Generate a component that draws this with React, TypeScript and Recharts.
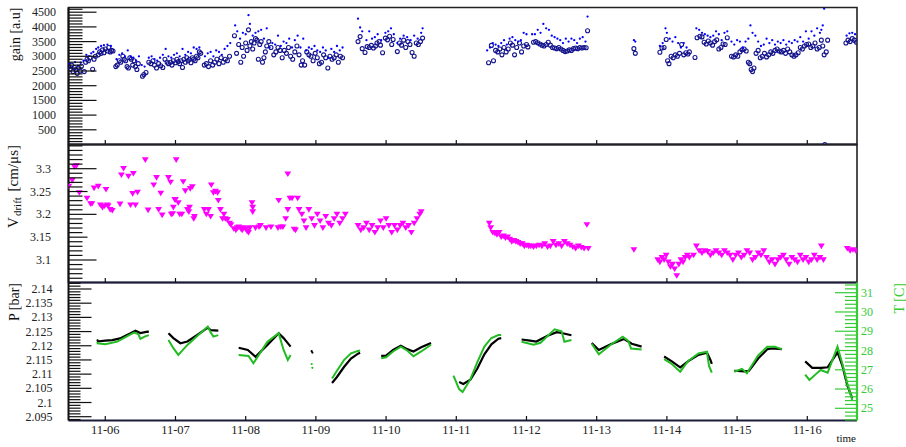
import React from 'react';
import { ScatterChart, Scatter, XAxis, YAxis, ReferenceArea } from 'recharts';

// ---------------- axes / labels ----------------
const DAY_TICKS = [0, 1, 2, 3, 4, 5, 6, 7, 8, 9, 10];
const DAY_LABELS = ['11-06', '11-07', '11-08', '11-09', '11-10', '11-11', '11-12', '11-13', '11-14', '11-15', '11-16'];
const X_DOMAIN: [number, number] = [-0.524, 10.708];

const GAIN_MAJOR = [500, 1000, 1500, 2000, 2500, 3000, 3500, 4000, 4500];
const GAIN_LABELS = ['500', '1000', '1500', '2000', '2500', '3000', '3500', '4000', '4500'];
const GAIN_DOMAIN: [number, number] = [0, 4660];

const V_MAJOR = [3.1, 3.15, 3.2, 3.25, 3.3];
const V_LABELS = ['3.1', '3.15', '3.2', '3.25', '3.3'];
const V_DOMAIN: [number, number] = [3.0507, 3.353];

const P_MAJOR = [2.095, 2.1, 2.105, 2.11, 2.115, 2.12, 2.125, 2.13, 2.135, 2.14];
const P_LABELS = ['2.095', '2.1', '2.105', '2.11', '2.115', '2.12', '2.125', '2.13', '2.135', '2.14'];
const P_DOMAIN: [number, number] = [2.09366, 2.14229];

const T_MAJOR = [25, 26, 27, 28, 29, 30, 31];
const T_LABELS = ['25', '26', '27', '28', '29', '30', '31'];
const T_DOMAIN: [number, number] = [24.367, 31.53];

// ---------------- data (time in days from 11-06 00:00) ----------------
const GAIN_CIRCLES: [number, number][] = [
  [-0.52, 2650], [-0.5, 2560], [-0.48, 2700], [-0.46, 2480], [-0.44, 2620], [-0.42, 2540], [-0.4, 2420], [-0.38, 2600], [-0.36, 2500], [-0.34, 2660],
  [-0.3, 2480], [-0.28, 2800], [-0.26, 2900], [-0.24, 2850], [-0.22, 2950], [-0.18, 2560], [-0.16, 2900], [-0.14, 3000],
  [-0.1, 3050], [-0.08, 3150], [-0.06, 3100], [-0.04, 3220], [-0.02, 3120], [0.0, 3250], [0.03, 3180], [0.05, 3300], [0.07, 3150], [0.09, 3200], [0.11, 3180],
  [0.15, 2650], [0.17, 2700], [0.2, 2850], [0.22, 2800], [0.25, 3000], [0.27, 2900], [0.29, 2850], [0.31, 2650], [0.33, 2600], [0.35, 2950], [0.37, 2900], [0.39, 2700], [0.41, 2850], [0.43, 2650], [0.45, 2550], [0.47, 2750],
  [0.53, 2320], [0.55, 2380], [0.58, 2450],
  [0.62, 2800], [0.65, 2750], [0.68, 2850], [0.7, 2700], [0.73, 2600], [0.76, 2750], [0.79, 2680], [0.82, 2620], [0.85, 2900], [0.88, 2800],
  [0.9, 2750], [0.93, 2800], [0.95, 2700], [0.97, 2850], [1.0, 2780], [1.02, 2900], [1.04, 2820], [1.06, 2750], [1.08, 2850], [1.1, 2620], [1.12, 2900], [1.14, 2800], [1.16, 2950], [1.18, 2850], [1.2, 2900], [1.22, 2780], [1.24, 2950], [1.26, 2900], [1.28, 2850], [1.3, 3000], [1.32, 2950], [1.34, 3150], [1.36, 3100],
  [1.41, 2700], [1.44, 2750], [1.47, 2650], [1.5, 2850], [1.53, 2700], [1.56, 2800], [1.59, 2900], [1.62, 2750], [1.65, 2950], [1.68, 2800], [1.71, 2900], [1.74, 2850], [1.77, 3000],
  [1.84, 3700], [1.87, 3100], [1.9, 3400], [1.93, 2800],
  [1.95, 3300], [1.97, 3000], [2.0, 3450], [2.02, 3200], [2.04, 3900], [2.06, 3350], [2.08, 3500], [2.1, 3250], [2.12, 3450], [2.14, 3600], [2.16, 3550], [2.18, 2900], [2.2, 3400], [2.22, 3500], [2.24, 2800], [2.26, 2950], [2.28, 3150], [2.3, 3350],
  [2.33, 3500], [2.36, 3300], [2.4, 3050], [2.43, 3150], [2.46, 3300], [2.49, 3200], [2.52, 2950], [2.55, 3200], [2.58, 3100], [2.61, 3300], [2.64, 3000], [2.67, 2900], [2.7, 3150], [2.73, 3350], [2.76, 3050], [2.79, 2700],
  [2.81, 2850], [2.84, 2700], [2.87, 3150], [2.9, 3050], [2.93, 3000], [2.96, 2850], [2.99, 3100], [3.02, 2950], [3.05, 2750], [3.08, 2800], [3.11, 3050], [3.14, 2950], [3.17, 2600], [3.2, 3000], [3.23, 2900], [3.26, 2950], [3.29, 3050], [3.32, 2800], [3.35, 3000], [3.38, 2950],
  [3.6, 3500], [3.63, 3670], [3.66, 3260], [3.7, 3130], [3.73, 3330], [3.76, 3300], [3.79, 3370], [3.82, 3280], [3.85, 3350], [3.87, 3450], [3.9, 3500], [3.92, 3380], [3.95, 3120],
  [3.99, 3620], [4.02, 3560], [4.05, 3680], [4.08, 3400], [4.1, 3570],
  [4.16, 3160], [4.19, 3450], [4.22, 3380], [4.25, 3550], [4.28, 3300], [4.31, 3500], [4.34, 3400], [4.37, 3130], [4.4, 3000], [4.43, 3450], [4.46, 3400], [4.49, 3500], [4.52, 3620],
  [5.46, 2780], [5.5, 3370], [5.53, 2850], [5.56, 3200], [5.59, 3150], [5.62, 3250], [5.65, 3050], [5.68, 3300], [5.71, 3150], [5.74, 3250], [5.77, 3450], [5.8, 3380], [5.83, 3050], [5.86, 3300], [5.9, 3450], [5.93, 3150], [5.96, 3350], [6.0, 3400], [6.02, 3320],
  [6.1, 3480], [6.13, 3500], [6.16, 3460], [6.19, 3420], [6.22, 3380], [6.25, 3350], [6.28, 3400], [6.31, 3480], [6.34, 3380], [6.37, 3300], [6.4, 3280], [6.43, 3260], [6.46, 3300], [6.49, 3250], [6.52, 3200], [6.55, 3160], [6.58, 3180], [6.61, 3220], [6.64, 3200], [6.67, 3260], [6.7, 3280], [6.73, 3260], [6.76, 3300], [6.79, 3280], [6.82, 3300], [6.85, 3290], [6.87, 3870],
  [7.53, 3260], [7.55, 3100],
  [7.9, 3140], [7.93, 3280], [7.96, 3300], [7.99, 3570], [8.01, 2850], [8.03, 2750], [8.06, 3000], [8.09, 2950], [8.12, 3050], [8.15, 3000], [8.18, 3100], [8.21, 3400], [8.24, 3050], [8.27, 3120], [8.3, 3080], [8.32, 3150],
  [8.4, 2960], [8.43, 3630], [8.47, 3680], [8.5, 3660], [8.53, 3480], [8.56, 3420], [8.59, 3520], [8.62, 3450], [8.65, 3380], [8.68, 3500], [8.71, 3560], [8.74, 3250], [8.77, 3300], [8.8, 3420], [8.83, 3400], [8.86, 3630],
  [8.92, 3000], [8.95, 2980], [8.98, 3050], [9.01, 3000], [9.04, 3150], [9.07, 3220], [9.1, 3250], [9.13, 3180], [9.16, 2800], [9.18, 2750], [9.2, 2550], [9.22, 2480], [9.24, 2600], [9.27, 3100], [9.3, 3200],
  [9.33, 2950], [9.36, 3000], [9.39, 3100], [9.42, 2980], [9.45, 3050], [9.48, 3150], [9.51, 3100], [9.54, 3200], [9.57, 3250], [9.6, 3180], [9.63, 3150], [9.66, 3200], [9.69, 3100], [9.72, 3250], [9.75, 3150], [9.78, 3050], [9.81, 3000], [9.84, 3050], [9.87, 3120], [9.9, 3300], [9.93, 3250], [9.96, 3350], [9.99, 3400], [10.02, 3420], [10.05, 3300], [10.08, 3350], [10.11, 3450], [10.14, 3250], [10.17, 3300], [10.2, 3550],
  [10.22, 3350], [10.24, 3050], [10.25, 0], [10.27, 3150], [10.29, 3550],
  [10.55, 3450], [10.58, 3550], [10.61, 3500], [10.64, 3600], [10.67, 3550], [10.7, 3480],
];

const GAIN_DOTS: [number, number][] = [
  [-0.51, 2750], [-0.47, 2620], [-0.43, 2800], [-0.39, 2680], [-0.35, 2780], [-0.31, 2850],
  [-0.27, 3050], [-0.24, 3000], [-0.2, 3100], [-0.17, 3150], [-0.13, 3250], [-0.1, 3300], [-0.06, 3350], [-0.02, 3380], [0.03, 3400], [0.08, 3350],
  [0.16, 2900], [0.2, 3050], [0.24, 3100], [0.28, 3000], [0.32, 3200], [0.36, 3000], [0.4, 2950], [0.44, 2850], [0.48, 3000], [0.52, 2700], [0.56, 2650],
  [0.62, 2950], [0.66, 3000], [0.7, 2900], [0.74, 2850], [0.78, 2950], [0.82, 3050], [0.86, 3250], [0.9, 3000], [0.94, 2950], [0.98, 3050], [1.02, 3100], [1.06, 3000], [1.1, 3250], [1.14, 3050], [1.18, 3150], [1.22, 3100], [1.26, 3300], [1.3, 3250], [1.34, 3300],
  [1.42, 3000], [1.46, 3100], [1.5, 3150], [1.54, 3000], [1.58, 3200], [1.62, 3150], [1.66, 3050], [1.7, 3250], [1.74, 3350], [1.78, 3450],
  [1.85, 4050], [1.88, 3850], [1.92, 3600], [1.96, 3800], [2.0, 3750], [2.04, 4400], [2.06, 4100], [2.1, 3700], [2.14, 3800], [2.18, 3850], [2.22, 3900], [2.26, 3600], [2.3, 3950],
  [2.34, 3300], [2.38, 3450], [2.42, 3400], [2.46, 3700], [2.5, 3350], [2.54, 3500], [2.58, 3450], [2.62, 3600], [2.66, 3300], [2.7, 3550], [2.74, 3700], [2.78, 3300],
  [2.82, 3600], [2.86, 3200], [2.9, 3300], [2.94, 3250], [2.98, 3350], [3.02, 3200], [3.06, 3150], [3.1, 3300], [3.14, 3200], [3.18, 2950], [3.22, 3250], [3.26, 3150], [3.3, 3350], [3.34, 3200], [3.38, 3300],
  [3.6, 4280], [3.63, 3980], [3.66, 3850], [3.72, 3550], [3.76, 3850], [3.8, 3600], [3.84, 3650], [3.88, 3750], [3.93, 3550],
  [3.99, 3800], [4.03, 3850], [4.07, 3950], [4.11, 3750], [4.16, 3450], [4.2, 3600], [4.25, 3700], [4.3, 3650], [4.35, 3550], [4.4, 3700], [4.45, 3600], [4.5, 3800], [4.52, 3950],
  [5.44, 3200], [5.48, 3300], [5.52, 3450], [5.56, 3400], [5.6, 3350], [5.64, 3450], [5.68, 3550], [5.72, 3400], [5.76, 3600], [5.8, 3650], [5.84, 3550], [5.88, 3500], [5.92, 3550], [5.96, 3800], [6.0, 3750],
  [6.08, 3750], [6.12, 3750], [6.16, 3900], [6.2, 3800], [6.24, 4100], [6.28, 3950], [6.32, 3900], [6.36, 3700], [6.4, 3650], [6.44, 3600], [6.48, 3550], [6.52, 3450], [6.56, 3600], [6.6, 3500], [6.64, 3600], [6.68, 3550], [6.72, 3450], [6.76, 3600], [6.8, 3650], [6.84, 3500], [6.87, 4350],
  [7.53, 3550], [7.55, 3500],
  [7.9, 3350], [7.94, 3450], [7.98, 3950], [8.0, 3800], [8.04, 3600], [8.08, 3500], [8.12, 3650], [8.16, 3450], [8.2, 3300], [8.24, 3450], [8.28, 3300],
  [8.42, 3950], [8.46, 3900], [8.5, 3800], [8.54, 3750], [8.58, 3700], [8.62, 3650], [8.66, 3700], [8.7, 3850], [8.74, 3750], [8.78, 3550], [8.82, 3800], [8.86, 3850],
  [8.92, 3500], [8.96, 3400], [9.0, 3550], [9.04, 3500], [9.08, 3300], [9.12, 3500], [9.16, 3600], [9.19, 4050], [9.22, 3800], [9.26, 3700], [9.3, 3500],
  [9.34, 3350], [9.38, 3400], [9.42, 3600], [9.46, 3450], [9.5, 3550], [9.54, 3400], [9.58, 3500], [9.62, 3450], [9.66, 3550], [9.7, 3400], [9.74, 3500], [9.78, 3450], [9.82, 3550], [9.86, 3500], [9.9, 3650], [9.94, 3500], [9.98, 3850], [10.02, 3600], [10.06, 3850], [10.1, 3700], [10.14, 3950], [10.18, 3800], [10.2, 3900], [10.22, 4050], [10.24, 4620],
  [10.56, 3700], [10.6, 3780], [10.64, 3800], [10.68, 3750],
];

const VDRIFT: [number, number][] = [
  [-0.52, 3.261], [-0.47, 3.274], [-0.44, 3.304], [-0.41, 3.306], [-0.37, 3.247], [-0.26, 3.235], [-0.21, 3.223], [-0.19, 3.223], [-0.16, 3.257], [-0.1, 3.261],
  [-0.07, 3.22], [-0.04, 3.215], [-0.01, 3.218], [0.01, 3.254], [0.03, 3.22], [0.04, 3.218], [0.07, 3.21], [0.1, 3.208],
  [0.21, 3.222], [0.23, 3.286], [0.26, 3.3], [0.33, 3.283], [0.36, 3.22], [0.39, 3.245], [0.4, 3.289], [0.43, 3.22], [0.46, 3.248],
  [0.57, 3.319], [0.61, 3.209], [0.69, 3.264], [0.73, 3.28], [0.76, 3.21], [0.79, 3.246], [0.81, 3.198],
  [0.9, 3.28], [0.93, 3.27], [0.94, 3.2], [0.96, 3.201], [0.97, 3.215], [0.99, 3.232], [1.0, 3.232], [1.01, 3.319], [1.04, 3.225], [1.06, 3.2], [1.09, 3.2],
  [1.11, 3.271], [1.14, 3.251], [1.17, 3.21], [1.19, 3.205], [1.2, 3.215], [1.21, 3.256], [1.24, 3.26], [1.26, 3.19], [1.27, 3.195],
  [1.41, 3.21], [1.44, 3.2], [1.47, 3.21], [1.5, 3.195], [1.51, 3.264], [1.54, 3.247], [1.57, 3.25], [1.6, 3.247], [1.61, 3.23], [1.64, 3.21],
  [1.67, 3.19], [1.69, 3.2], [1.71, 3.19], [1.74, 3.188], [1.77, 3.18], [1.79, 3.177],
  [1.83, 3.168], [1.86, 3.165], [1.88, 3.17], [1.9, 3.172], [1.93, 3.168], [1.95, 3.165], [1.97, 3.17], [2.0, 3.168], [2.02, 3.163], [2.04, 3.16], [2.06, 3.17],
  [2.09, 3.225], [2.1, 3.215], [2.1, 3.205], [2.14, 3.17], [2.19, 3.172], [2.21, 3.175], [2.29, 3.17], [2.36, 3.172], [2.46, 3.17], [2.47, 3.23], [2.5, 3.172], [2.53, 3.172],
  [2.57, 3.19], [2.6, 3.21], [2.6, 3.288], [2.63, 3.235], [2.66, 3.235], [2.69, 3.167], [2.71, 3.165], [2.74, 3.235], [2.76, 3.21],
  [2.8, 3.2], [2.83, 3.185], [2.86, 3.17], [2.9, 3.21], [2.94, 3.19], [2.98, 3.175], [3.02, 3.2], [3.06, 3.185], [3.1, 3.17], [3.14, 3.195], [3.18, 3.18], [3.22, 3.175], [3.26, 3.19], [3.3, 3.2], [3.34, 3.18], [3.38, 3.19], [3.42, 3.2],
  [3.6, 3.175], [3.64, 3.165], [3.68, 3.17], [3.72, 3.18], [3.76, 3.165], [3.8, 3.175], [3.84, 3.16], [3.88, 3.17], [3.92, 3.185], [3.96, 3.17], [4.0, 3.19], [4.04, 3.175],
  [4.08, 3.16], [4.12, 3.175], [4.16, 3.165], [4.2, 3.175], [4.24, 3.18], [4.28, 3.17], [4.32, 3.175], [4.36, 3.16], [4.4, 3.18], [4.44, 3.19], [4.48, 3.2], [4.5, 3.205],
  [5.47, 3.18], [5.49, 3.17], [5.52, 3.16], [5.55, 3.158], [5.58, 3.155], [5.61, 3.16], [5.64, 3.15], [5.67, 3.152], [5.7, 3.148], [5.73, 3.15], [5.76, 3.145], [5.79, 3.14],
  [5.82, 3.142], [5.85, 3.14], [5.88, 3.138], [5.91, 3.135], [5.94, 3.135], [5.97, 3.13], [6.0, 3.132], [6.03, 3.13],
  [6.06, 3.13], [6.1, 3.128], [6.14, 3.13], [6.18, 3.132], [6.22, 3.13], [6.26, 3.135], [6.3, 3.128], [6.34, 3.13], [6.38, 3.14], [6.42, 3.132], [6.46, 3.135], [6.5, 3.13],
  [6.54, 3.14], [6.58, 3.135], [6.62, 3.132], [6.66, 3.128], [6.7, 3.125], [6.74, 3.13], [6.78, 3.127], [6.82, 3.125], [6.86, 3.177], [6.88, 3.125],
  [7.53, 3.122],
  [7.87, 3.1], [7.9, 3.095], [7.93, 3.105], [7.96, 3.1], [7.99, 3.11], [8.02, 3.095], [8.05, 3.085], [8.08, 3.09], [8.11, 3.08], [8.14, 3.065], [8.17, 3.09], [8.2, 3.1], [8.23, 3.095], [8.26, 3.105], [8.29, 3.11], [8.32, 3.105],
  [8.38, 3.11], [8.42, 3.13], [8.46, 3.12], [8.5, 3.115], [8.54, 3.12], [8.58, 3.118], [8.62, 3.11], [8.66, 3.115], [8.7, 3.12], [8.74, 3.115], [8.78, 3.11], [8.82, 3.12], [8.86, 3.115], [8.9, 3.11], [8.94, 3.1], [8.98, 3.11], [9.02, 3.115], [9.06, 3.105],
  [9.1, 3.11], [9.14, 3.12], [9.18, 3.115], [9.22, 3.1], [9.26, 3.105], [9.3, 3.115], [9.34, 3.11], [9.38, 3.12], [9.42, 3.105], [9.46, 3.095], [9.5, 3.1], [9.54, 3.09], [9.58, 3.1], [9.62, 3.105], [9.66, 3.11],
  [9.7, 3.1], [9.74, 3.09], [9.78, 3.105], [9.82, 3.1], [9.86, 3.095], [9.9, 3.11], [9.94, 3.1], [9.98, 3.105], [10.02, 3.095], [10.06, 3.1], [10.1, 3.11], [10.14, 3.1], [10.18, 3.105], [10.2, 3.13], [10.23, 3.1],
  [10.57, 3.125], [10.61, 3.12], [10.65, 3.122], [10.69, 3.12],
];

// Pressure [bar], one list per continuous run
const PRESSURE_RUNS: [number, number][][] = [
  [[-0.12, 2.1215], [0.0, 2.1218], [0.1, 2.122], [0.21, 2.1226], [0.36, 2.1244], [0.43, 2.1253], [0.5, 2.1245], [0.6, 2.125], [0.62, 2.1249]],
  [[0.9, 2.1244], [0.97, 2.1227], [1.07, 2.1209], [1.17, 2.1215], [1.31, 2.1238], [1.46, 2.1264], [1.5, 2.1255], [1.61, 2.1253]],
  [[1.9, 2.1193], [2.03, 2.1185], [2.14, 2.1161], [2.31, 2.1203], [2.47, 2.1244], [2.54, 2.1227], [2.64, 2.1197]],
  [[3.23, 2.1069], [3.3, 2.109], [3.4, 2.1125], [3.5, 2.1155], [3.6, 2.1172], [3.63, 2.1175]],
  [[3.93, 2.1164], [4.0, 2.1165], [4.1, 2.1185], [4.21, 2.12], [4.3, 2.1188], [4.39, 2.118], [4.5, 2.1195], [4.64, 2.121]],
  [[5.04, 2.1072], [5.1, 2.1065], [5.2, 2.108], [5.3, 2.112], [5.4, 2.117], [5.5, 2.1205], [5.6, 2.1225], [5.64, 2.1227]],
  [[5.93, 2.1222], [6.05, 2.1218], [6.14, 2.1215], [6.3, 2.1235], [6.43, 2.1248], [6.5, 2.1245], [6.64, 2.1237]],
  [[6.93, 2.121], [7.03, 2.1185], [7.2, 2.1205], [7.39, 2.1224], [7.5, 2.1207], [7.64, 2.1197]],
  [[7.96, 2.1162], [8.07, 2.1145], [8.19, 2.1124], [8.3, 2.1145], [8.45, 2.1168], [8.57, 2.1176], [8.62, 2.115], [8.64, 2.1136]],
  [[8.96, 2.1112], [9.1, 2.111], [9.17, 2.1112], [9.3, 2.1155], [9.43, 2.1188], [9.5, 2.1191], [9.64, 2.1188]],
  [[9.97, 2.1145], [10.07, 2.1122], [10.2, 2.1122], [10.29, 2.1124], [10.43, 2.1177], [10.5, 2.113], [10.57, 2.106], [10.64, 2.1015]],
];
// isolated pressure readings
const PRESSURE_SINGLES: [number, number][] = [[-0.11, 2.1219], [2.94, 2.1181], [2.95, 2.1176]];

// Temperature [C], one list per continuous run
const TEMP_RUNS: [number, number][][] = [
  [[-0.12, 28.38], [0.0, 28.32], [0.17, 28.46], [0.36, 28.84], [0.41, 28.93], [0.47, 28.85], [0.5, 28.6], [0.56, 28.72], [0.62, 28.8]],
  [[0.9, 28.55], [0.97, 28.12], [1.04, 27.77], [1.17, 28.29], [1.31, 28.75], [1.46, 29.24], [1.5, 28.95], [1.54, 28.72], [1.61, 28.8]],
  [[1.9, 27.77], [2.04, 27.72], [2.11, 27.34], [2.31, 28.46], [2.47, 28.9], [2.54, 28.03], [2.6, 27.51], [2.64, 27.77]],
  [[3.23, 26.55], [3.3, 26.95], [3.4, 27.5], [3.5, 27.85], [3.6, 27.98], [3.63, 28.0]],
  [[3.93, 27.6], [4.0, 27.65], [4.1, 27.95], [4.21, 28.2], [4.3, 28.0], [4.39, 27.7], [4.5, 27.95], [4.64, 28.3]],
  [[4.96, 26.7], [5.04, 26.0], [5.09, 25.85], [5.2, 26.5], [5.3, 27.4], [5.4, 28.2], [5.5, 28.65], [5.6, 28.8], [5.64, 28.8]],
  [[5.93, 28.45], [6.1, 28.3], [6.2, 28.4], [6.4, 29.1], [6.5, 29.0], [6.54, 28.45], [6.64, 28.55]],
  [[6.93, 28.35], [7.03, 27.8], [7.2, 28.3], [7.37, 28.72], [7.45, 28.5], [7.49, 28.1], [7.64, 28.05]],
  [[7.96, 27.55], [8.07, 27.3], [8.19, 26.9], [8.3, 27.45], [8.45, 27.85], [8.57, 27.94], [8.6, 27.2], [8.64, 26.85]],
  [[8.96, 26.9], [9.07, 27.05], [9.14, 26.82], [9.3, 27.75], [9.43, 28.2], [9.54, 28.2], [9.64, 28.06]],
  [[9.97, 26.75], [10.03, 26.47], [10.13, 26.8], [10.19, 26.99], [10.29, 26.85], [10.43, 28.2], [10.5, 27.3], [10.57, 26.3], [10.64, 25.43]],
];
// isolated temperature readings
const TEMP_SINGLES: [number, number][] = [[-0.11, 28.4], [2.94, 27.3], [2.95, 27.1]];

// ---------------- helpers ----------------
const FONT = '"Liberation Serif", "DejaVu Serif", serif';
const GREEN = '#33cc33';
const W = 906;
const H = 447;
const PLOT_LEFT = 68.5;
const PLOT_RIGHT = 857;
const AX = 1; // thickness reserved for each axis (must be > 0 for recharts to draw it)

function steps(a: number, b: number, step: number): number[] {
  const out: number[] = [];
  const n = Math.round((b - a) / step);
  for (let i = 0; i <= n; i++) out.push(+(a + i * step).toFixed(6));
  return out;
}
const GAIN_TICKS = steps(0, 4600, 100);
const V_TICKS = steps(3.06, 3.35, 0.01);
const P_TICKS = steps(2.094, 2.142, 0.001);
const T_TICKS = steps(24.4, 31.4, 0.2);

const toXY = (arr: [number, number][]) => arr.map(([x, y]) => ({ x, y }));

function findIdx(list: number[], v: number) {
  return list.findIndex((m) => Math.abs(m - v) < 1e-6);
}

const makeLeftTick = (majors: number[], labels: string[], majorLen: number, minorLen: number, gap: number, midMajors: number[] = [], midLen = 0) => (props: any) => {
  const { x, y, payload } = props;
  const v = payload.value;
  const idx = findIdx(majors, v);
  const mid = findIdx(midMajors, v) >= 0;
  const len = mid ? midLen : idx >= 0 ? majorLen : minorLen;
  return (
    <g>
      <line x1={x} x2={x + len} y1={y} y2={y} stroke="#111" strokeWidth={1.2} />
      {idx >= 0 ? (
        <text x={x - gap} y={y + 4} textAnchor="end" fontSize={12} fontFamily={FONT} fill="#222">
          {labels[idx]}
        </text>
      ) : null}
    </g>
  );
};

const TTick = (props: any) => {
  const { x, y, payload } = props;
  const idx = findIdx(T_MAJOR, payload.value);
  const len = idx >= 0 ? 22 : 12;
  return (
    <g>
      <line x1={x} x2={x - len} y1={y} y2={y} stroke={GREEN} strokeWidth={1.2} />
      {idx >= 0 ? (
        <text x={x + 4} y={y + 4} textAnchor="start" fontSize={12} fontFamily={FONT} fill={GREEN}>
          {T_LABELS[idx]}
        </text>
      ) : null}
    </g>
  );
};

const makeXTick = (showLabels: boolean) => (props: any) => {
  const { x, y, payload } = props;
  const i = DAY_TICKS.indexOf(Math.round(payload.value));
  return (
    <g>
      <line x1={x} x2={x} y1={y} y2={y - 4.5} stroke="#111" strokeWidth={1.2} />
      {showLabels ? (
        <text x={x} y={y + 13.5} textAnchor="middle" fontSize={12.5} fontFamily={FONT} fill="#222">
          {DAY_LABELS[i]}
        </text>
      ) : null}
    </g>
  );
};

const OpenCircle = (p: any) => <circle cx={p.cx} cy={p.cy} r={2} fill="none" stroke="#14148c" strokeWidth={1.1} />;
const SmallDot = (p: any) => <circle cx={p.cx} cy={p.cy} r={1.15} fill="#0000ff" />;
const DownTriangle = (p: any) => (
  <path d={`M${p.cx - 3.4},${p.cy - 2.7} L${p.cx + 3.4},${p.cy - 2.7} L${p.cx},${p.cy + 2.9} Z`} fill="#ff00ff" />
);
const BlackPt = (p: any) => <circle cx={p.cx} cy={p.cy} r={1.1} fill="#000" />;
const GreenPt = (p: any) => <circle cx={p.cx} cy={p.cy} r={1.1} fill="#22bb22" />;
const Nothing = () => <g />;

const commonX = (showLabels: boolean) => ({
  type: 'number' as const,
  dataKey: 'x',
  domain: X_DOMAIN,
  allowDataOverflow: true,
  ticks: DAY_TICKS,
  interval: 0 as const,
  height: AX,
  tickLine: false,
  tickSize: 0,
  tickMargin: 0,
  tick: makeXTick(showLabels),
  axisLine: { stroke: '#1b1b3a', strokeWidth: 2 },
});

const leftY = (domain: [number, number], ticks: number[], tick: any) => ({
  type: 'number' as const,
  dataKey: 'y',
  domain,
  allowDataOverflow: true,
  ticks,
  interval: 0 as const,
  width: AX,
  tickLine: false,
  tickSize: 0,
  tickMargin: 0,
  tick,
  axisLine: { stroke: '#111', strokeWidth: 2 },
});

const wrap: React.CSSProperties = { position: 'absolute', left: 0, top: 0 };

const marginFor = (top: number, bottom: number, rightAxis: boolean) => ({
  top,
  bottom: H - bottom - AX,
  left: PLOT_LEFT - AX,
  right: W - PLOT_RIGHT - (rightAxis ? AX : 0),
});

function GainPanel() {
  return (
    <div style={wrap}>
      <ScatterChart width={W} height={H} margin={marginFor(7.5, 144.5, false)}>
        <XAxis {...commonX(false)} />
        <YAxis {...leftY(GAIN_DOMAIN, GAIN_TICKS, makeLeftTick(GAIN_MAJOR, GAIN_LABELS, 28, 14, 12.5))} />
        <ReferenceArea x1={X_DOMAIN[0]} x2={X_DOMAIN[1]} y1={GAIN_DOMAIN[0]} y2={GAIN_DOMAIN[1]} fill="none" stroke="#222" strokeWidth={1.6} ifOverflow="visible" />
        <Scatter data={toXY(GAIN_CIRCLES)} shape={OpenCircle} isAnimationActive={false} />
        <Scatter data={toXY(GAIN_DOTS)} shape={SmallDot} isAnimationActive={false} />
      </ScatterChart>
    </div>
  );
}

function VdriftPanel() {
  return (
    <div style={wrap}>
      <ScatterChart width={W} height={H} margin={marginFor(144.5, 282.5, false)}>
        <XAxis {...commonX(false)} />
        <YAxis {...leftY(V_DOMAIN, V_TICKS, makeLeftTick(V_MAJOR, V_LABELS, 28, 14, 17.5, [3.15, 3.25], 19))} />
        <ReferenceArea x1={X_DOMAIN[0]} x2={X_DOMAIN[1]} y1={V_DOMAIN[0]} y2={V_DOMAIN[1]} fill="none" stroke="#222" strokeWidth={1.6} ifOverflow="visible" />
        <Scatter data={toXY(VDRIFT)} shape={DownTriangle} isAnimationActive={false} />
      </ScatterChart>
    </div>
  );
}

function PTPanel() {
  return (
    <div style={wrap}>
      <ScatterChart width={W} height={H} margin={marginFor(282.5, 420.5, true)}>
        <XAxis {...commonX(true)} />
        <YAxis yAxisId="P" {...leftY(P_DOMAIN, P_TICKS, makeLeftTick(P_MAJOR, P_LABELS, 23, 12, 16))} />
        <YAxis
          yAxisId="T"
          orientation="right"
          type="number"
          dataKey="y"
          domain={T_DOMAIN}
          allowDataOverflow
          ticks={T_TICKS}
          interval={0}
          width={AX}
          tickLine={false}
          tickSize={0}
          tickMargin={0}
          tick={TTick}
          axisLine={{ stroke: GREEN, strokeWidth: 2.2 }}
        />
        {PRESSURE_RUNS.map((run, i) => (
          <Scatter key={'p' + i} yAxisId="P" data={toXY(run)} line={{ stroke: '#000', strokeWidth: 2.2 }} shape={Nothing} isAnimationActive={false} />
        ))}
        <Scatter yAxisId="P" data={toXY(PRESSURE_SINGLES)} shape={BlackPt} isAnimationActive={false} />
        {TEMP_RUNS.map((run, i) => (
          <Scatter key={'t' + i} yAxisId="T" data={toXY(run)} line={{ stroke: '#22bb22', strokeWidth: 2 }} shape={Nothing} isAnimationActive={false} />
        ))}
        <Scatter yAxisId="T" data={toXY(TEMP_SINGLES)} shape={GreenPt} isAnimationActive={false} />
      </ScatterChart>
    </div>
  );
}

function Titles() {
  return (
    <svg width={W} height={H} style={{ position: 'absolute', left: 0, top: 0 }}>
      <text x={20} y={7.5} transform="rotate(-90 20 7.5)" textAnchor="end" fontSize={14} fontFamily={FONT} fill="#111">
        gain [a.u]
      </text>
      <text x={18} y={145} transform="rotate(-90 18 145)" textAnchor="end" fontSize={15} fontFamily={FONT} fill="#111">
        V<tspan fontSize={11} dx={1} dy={3}>drift</tspan>
        <tspan dx={2} dy={-3}> [cm/μs]</tspan>
      </text>
      <text x={19} y={283} transform="rotate(-90 19 283)" textAnchor="end" fontSize={14} fontFamily={FONT} fill="#111">
        P [bar]
      </text>
      <text x={904} y={283} transform="rotate(-90 904 283)" textAnchor="end" fontSize={14} fontFamily={FONT} fill={GREEN}>
        T [C]
      </text>
      <text x={856} y={442} textAnchor="end" fontSize={11} fontFamily={FONT} fill="#111">
        time
      </text>
    </svg>
  );
}

export default function App() {
  return (
    <div style={{ position: 'absolute', left: 0, top: 0, width: W, height: H, background: '#fff', overflow: 'hidden' }}>
      <GainPanel />
      <VdriftPanel />
      <PTPanel />
      <Titles />
    </div>
  );
}
